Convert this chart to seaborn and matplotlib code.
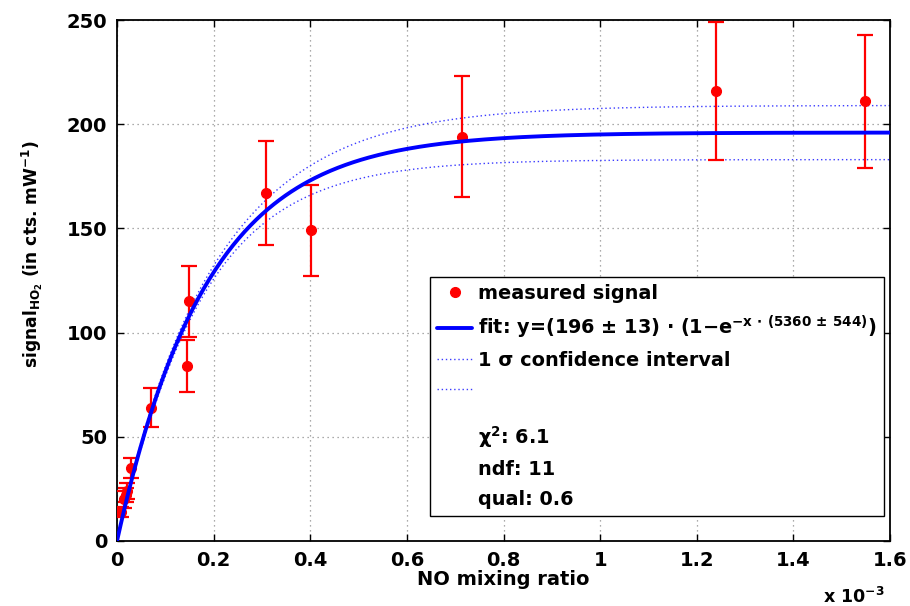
import numpy as np
import pandas as pd
import matplotlib
matplotlib.use("Agg")
import matplotlib.pyplot as plt
from matplotlib.lines import Line2D
import seaborn as sns

# NO mixing ratio (units of 1e-3) and measured HO2 signal with 1-sigma errors
no_ratio_e3 = [0.008, 0.014, 0.018, 0.021, 0.028, 0.070, 0.144, 0.148, 0.308, 0.402, 0.714, 1.240, 1.548]
signal = [14.0, 20.0, 22.0, 24.0, 35.0, 64.0, 84.0, 115.0, 167.0, 149.0, 194.0, 216.0, 211.0]
signal_err = [2.5, 4.0, 3.5, 4.0, 5.0, 9.5, 12.5, 17.0, 25.0, 22.0, 29.0, 33.0, 32.0]

# Fit parameters y = A * (1 - exp(-k x)) and their uncertainties
amp, amp_err = 196.0, 13.0
rate, rate_err = 5360.0, 544.0
rho = -0.93  # correlation between amplitude and rate
chi2, ndf, qual = 6.1, 11, 0.6

x_ticks = [0, 0.2, 0.4, 0.6, 0.8, 1.0, 1.2, 1.4, 1.6]
x_tick_labels = ["0", "0.2", "0.4", "0.6", "0.8", "1", "1.2", "1.4", "1.6"]
y_ticks = [0, 50, 100, 150, 200, 250]

sns.set_style("ticks")
plt.rcParams["font.family"] = ["DejaVu Sans"]
plt.rcParams["font.weight"] = "bold"
plt.rcParams["text.color"] = "black"
plt.rcParams["axes.labelcolor"] = "black"
plt.rcParams["xtick.color"] = "black"
plt.rcParams["ytick.color"] = "black"
plt.rcParams["mathtext.fontset"] = "custom"
plt.rcParams["mathtext.rm"] = "DejaVu Sans:bold"
plt.rcParams["mathtext.it"] = "DejaVu Sans:bold:italic"
plt.rcParams["mathtext.bf"] = "DejaVu Sans:bold"

FS = 14.0
LFS = 13.9

fig = plt.figure(figsize=(9.10, 6.06), dpi=100)
ax = fig.add_axes([117 / 910, 1 - 541 / 606, 773 / 910, 521 / 606])

# model curve and 1-sigma band from the fit parameters
xf = np.linspace(0, 1.6, 400)
xa = xf * 1e-3
e = np.exp(-rate * xa)
yf = amp * (1 - e)
da = (1 - e) * amp_err
dk = amp * xa * e * rate_err
sig = np.sqrt(np.clip(da**2 + dk**2 + 2 * rho * da * dk, 0, None))
fit_df = pd.DataFrame({"x": xf, "fit": yf, "upper": yf + sig, "lower": yf - sig})

band_color = "#3a3aff"
ax.errorbar(no_ratio_e3, signal, yerr=signal_err, fmt="o", color="red",
            ms=7, elinewidth=1.6, capsize=6, capthick=1.6, zorder=3)
sns.lineplot(data=fit_df, x="x", y="fit", ax=ax, color="blue", lw=2.8, zorder=4)
sns.lineplot(data=fit_df, x="x", y="upper", ax=ax, color=band_color, lw=1.0,
             linestyle=(0, (1, 2)), zorder=2)
sns.lineplot(data=fit_df, x="x", y="lower", ax=ax, color=band_color, lw=1.0,
             linestyle=(0, (1, 2)), zorder=2)

ax.set_xlim(0, 1.6)
ax.set_ylim(0, 250)
ax.set_xticks(x_ticks)
ax.set_xticklabels(x_tick_labels)
ax.set_yticks(y_ticks)
ax.tick_params(direction="in", length=5, width=1.0, top=True, right=True,
               labelsize=FS, pad=7)
for lab in ax.get_xticklabels() + ax.get_yticklabels():
    lab.set_fontweight("bold")
ax.grid(True, color="#909090", linestyle=(0, (1, 3)), linewidth=0.9)
for s in ax.spines.values():
    s.set_visible(True)
    s.set_color("black")
    s.set_linewidth(1.3)

ax.set_xlabel("NO mixing ratio", fontsize=FS, fontweight="bold", labelpad=0)
ax.set_ylabel(r"signal$_{\mathrm{HO}_2}$ (in cts. mW$^{-1}$)", fontsize=12.3,
              fontweight="bold")
ax.yaxis.set_label_coords(-0.093, 0.551)
fig.text(823 / 910, 1 - 603 / 606, r"x 10$^{-3}$", fontsize=12.6, fontweight="bold",
         ha="left", va="baseline")

blank = Line2D([], [], linestyle="none", marker=None)
handles = [
    Line2D([], [], linestyle="none", marker="o", color="red", ms=7),
    Line2D([], [], color="blue", lw=2.8),
    Line2D([], [], color=band_color, lw=1.0, linestyle=(0, (1, 2))),
    Line2D([], [], color=band_color, lw=1.0, linestyle=(0, (1, 2))),
    blank, blank, blank,
]
labels = [
    "measured signal",
    r"fit: y=(196 ± 13) · (1$-$e$^{\mathrm{-x}\,\cdot\,\mathrm{(5360}\,\pm\,\mathrm{544)}}$)",
    "1 σ confidence interval",
    "",
    "\n" + r"χ$^{\mathrm{2}}$: " + f"{chi2}",
    f"ndf: {ndf}",
    f"qual: {qual}",
]
leg = ax.legend(handles, labels, loc="upper left", bbox_to_anchor=(0.405, 0.507),
                fontsize=LFS, frameon=True, fancybox=False, framealpha=1,
                edgecolor="black", handlelength=1.8, handletextpad=0.3,
                borderpad=0.38, labelspacing=0.54, borderaxespad=0)
leg.get_frame().set_linewidth(1.0)
for t in leg.get_texts():
    t.set_fontweight("bold")
leg.get_texts()[4].set_linespacing(0.75)

fig.savefig("out.png", dpi=100)
